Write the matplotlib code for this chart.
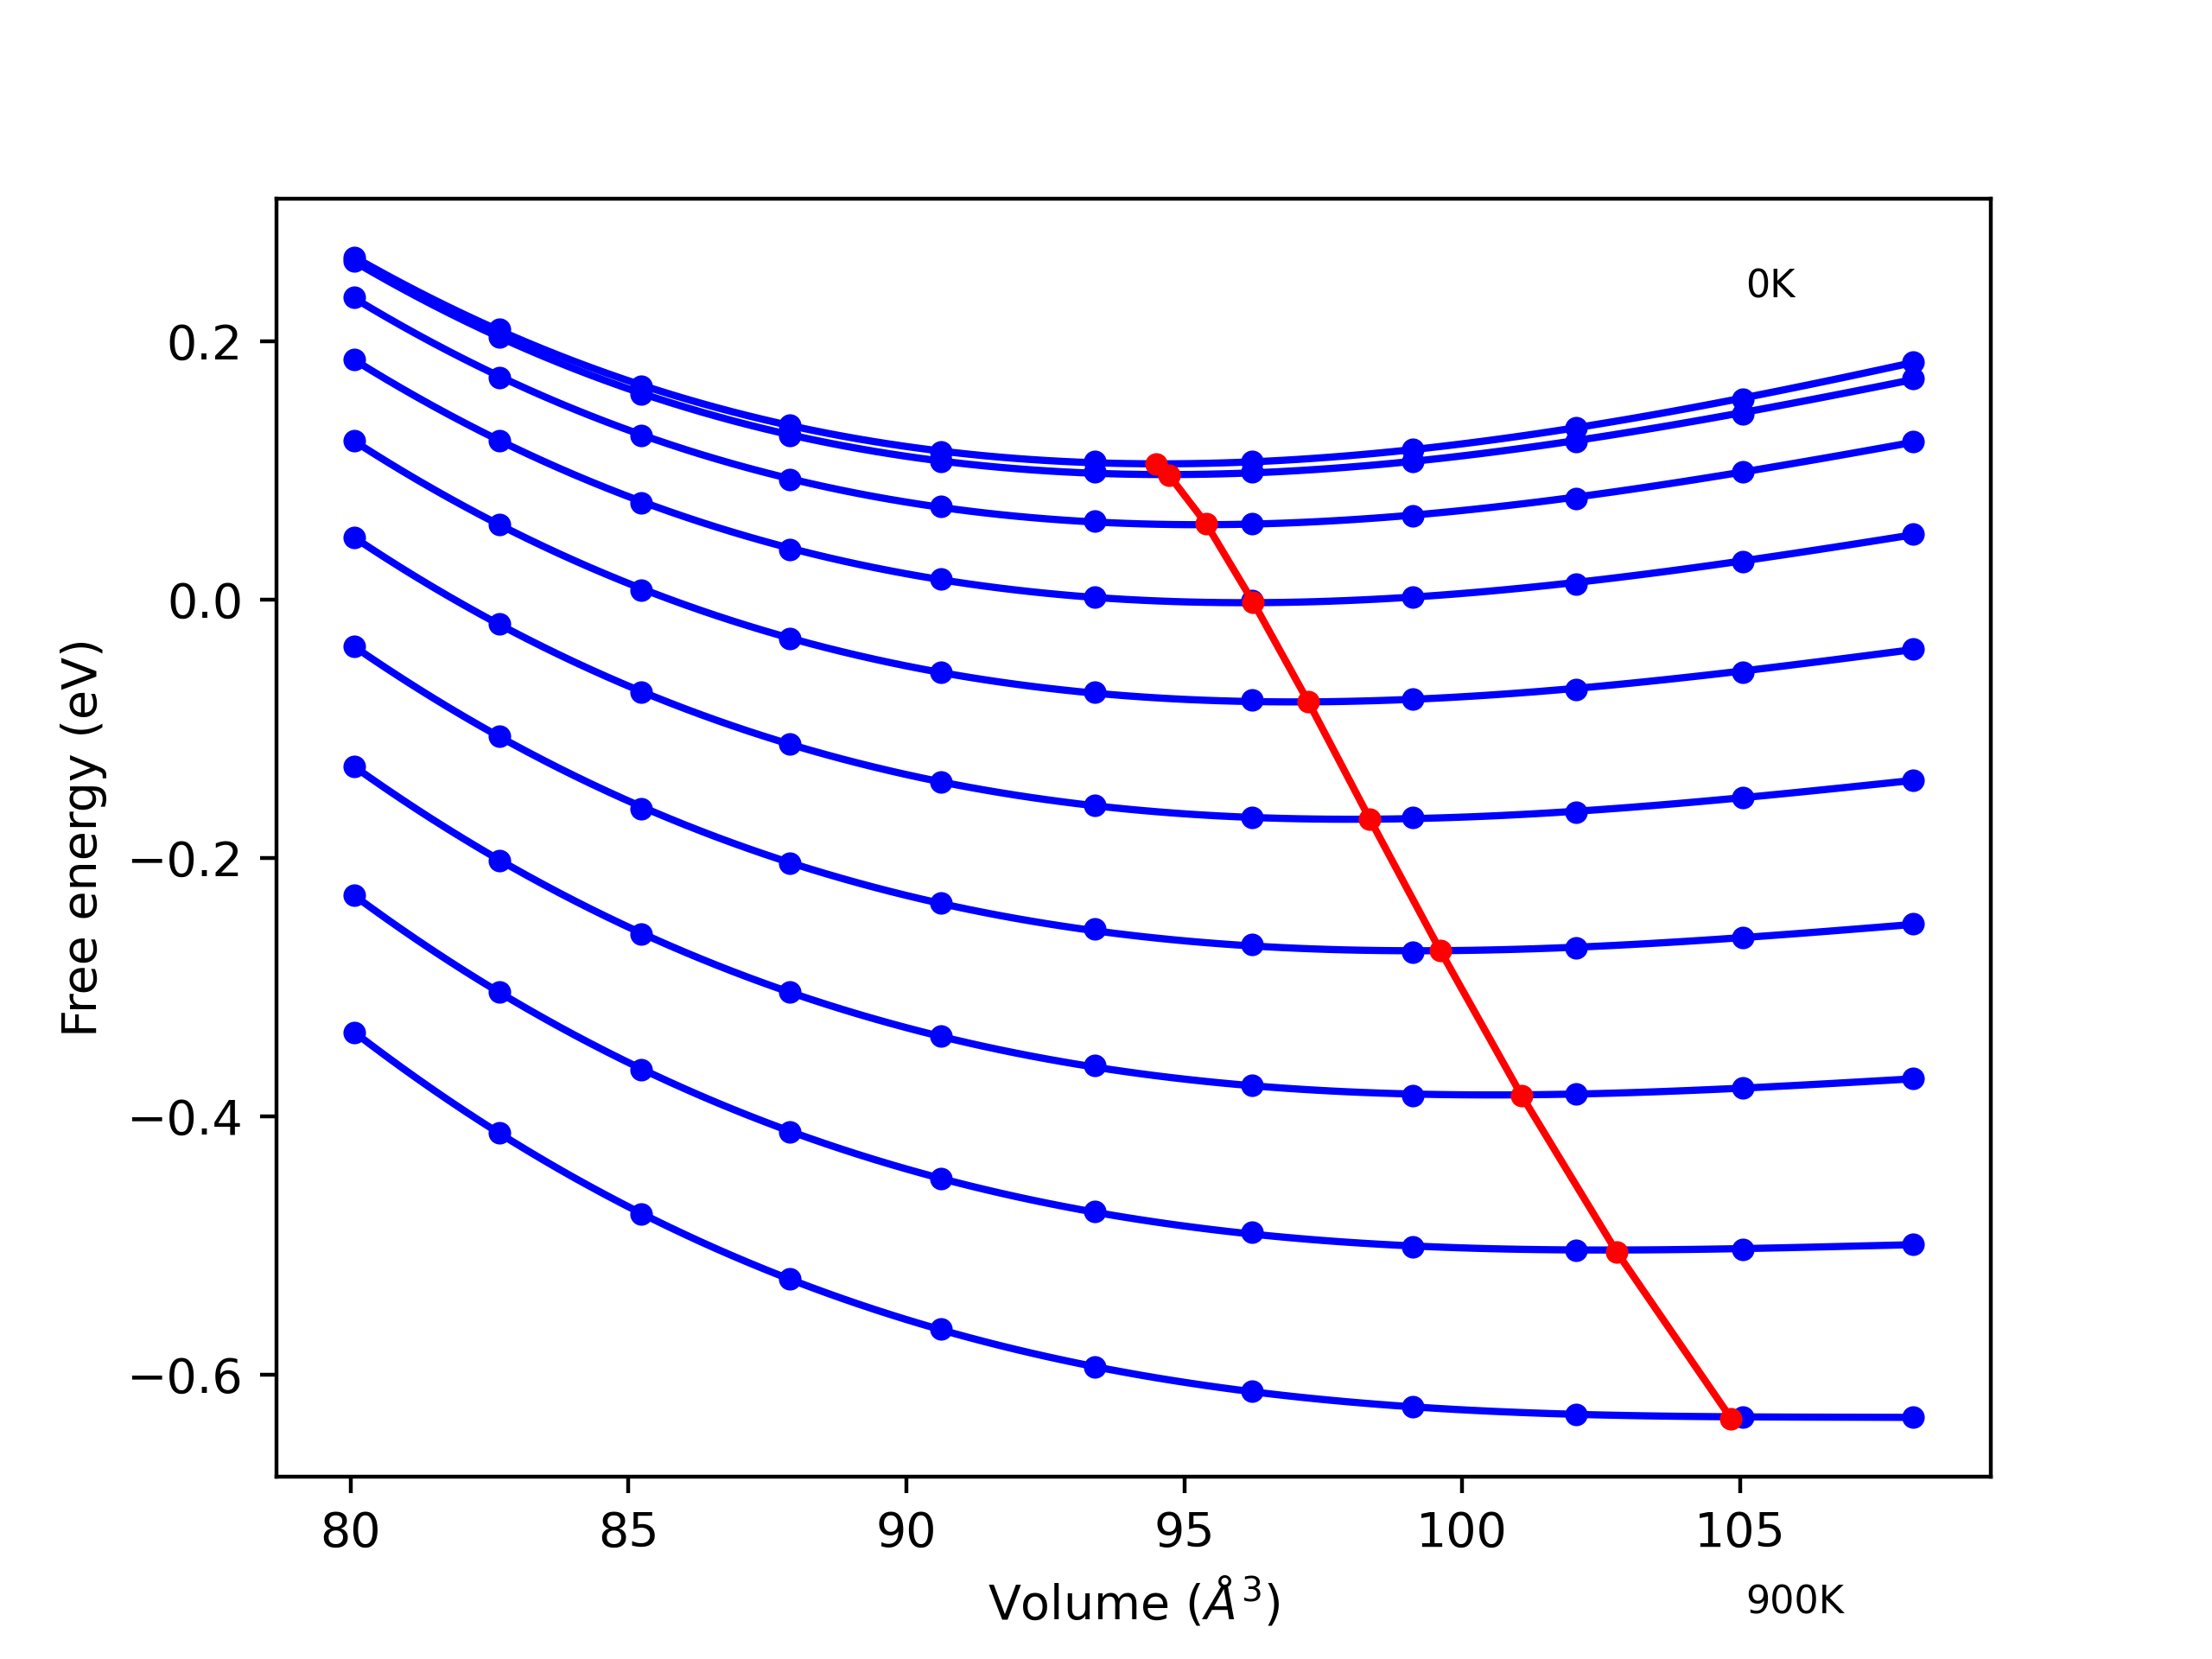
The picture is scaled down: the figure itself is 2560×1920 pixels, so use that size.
import numpy as np
import matplotlib
matplotlib.use("Agg")
import matplotlib.pyplot as plt

# Volumes (Å^3) at which free energies were computed
volumes = [80.07, 82.68, 85.23, 87.90, 90.62, 93.39, 96.22, 99.11, 102.05, 105.05, 108.11]

# Free energy (eV) per temperature, 0K ... 900K
F_0K   = [0.265, 0.209, 0.165, 0.135, 0.114, 0.107, 0.107, 0.116, 0.133, 0.155, 0.184]
F_100K = [0.262, 0.203, 0.159, 0.127, 0.107, 0.099, 0.099, 0.107, 0.122, 0.144, 0.171]
F_200K = [0.234, 0.172, 0.127, 0.093, 0.072, 0.061, 0.059, 0.065, 0.078, 0.099, 0.122]
F_300K = [0.186, 0.123, 0.075, 0.039, 0.016, 0.002, -0.001, 0.002, 0.012, 0.029, 0.051]
F_400K = [0.123, 0.058, 0.007, -0.030, -0.056, -0.072, -0.078, -0.077, -0.070, -0.056, -0.038]
F_500K = [0.048, -0.019, -0.072, -0.112, -0.141, -0.159, -0.169, -0.169, -0.165, -0.153, -0.140]
F_600K = [-0.036, -0.106, -0.162, -0.204, -0.235, -0.255, -0.267, -0.273, -0.270, -0.262, -0.251]
F_700K = [-0.129, -0.202, -0.259, -0.304, -0.338, -0.361, -0.376, -0.384, -0.383, -0.378, -0.371]
F_800K = [-0.229, -0.304, -0.364, -0.412, -0.448, -0.474, -0.490, -0.501, -0.504, -0.503, -0.499]
F_900K = [-0.335, -0.413, -0.476, -0.526, -0.565, -0.594, -0.613, -0.625, -0.631, -0.633, -0.633]

series = [F_0K, F_100K, F_200K, F_300K, F_400K, F_500K, F_600K, F_700K, F_800K, F_900K]

# Equilibrium volume / minimum free energy for each temperature
V_min = [94.50, 94.73, 95.39, 96.24, 97.23, 98.34, 99.61, 101.07, 102.78, 104.84]
F_min = [0.105, 0.096, 0.059, -0.002, -0.079, -0.170, -0.272, -0.384, -0.505, -0.634]

label_low = "0K"
label_high = "900K"

fig = plt.figure(figsize=(6.4, 4.8), dpi=400)
ax = fig.add_subplot(111)

V = np.array(volumes)
vfine = np.linspace(V.min(), V.max(), 100)
for F in series:
    F = np.array(F)
    coef = np.polyfit(V, F, 3)
    ax.plot(vfine, np.polyval(coef, vfine), color="blue", lw=1.5)
    ax.plot(V, F, "o", color="blue", ms=3.7)

ax.plot(V_min, F_min, "-o", color="red", lw=1.5, ms=3.7)

ax.text(105.1, 0.234, label_low, fontsize=8)
ax.text(105.1, -0.785, label_high, fontsize=8)

ax.set_xlabel(r"Volume ($\AA^3$)")
ax.set_ylabel("Free energy (eV)")

fig.savefig("out.png", dpi=400)
